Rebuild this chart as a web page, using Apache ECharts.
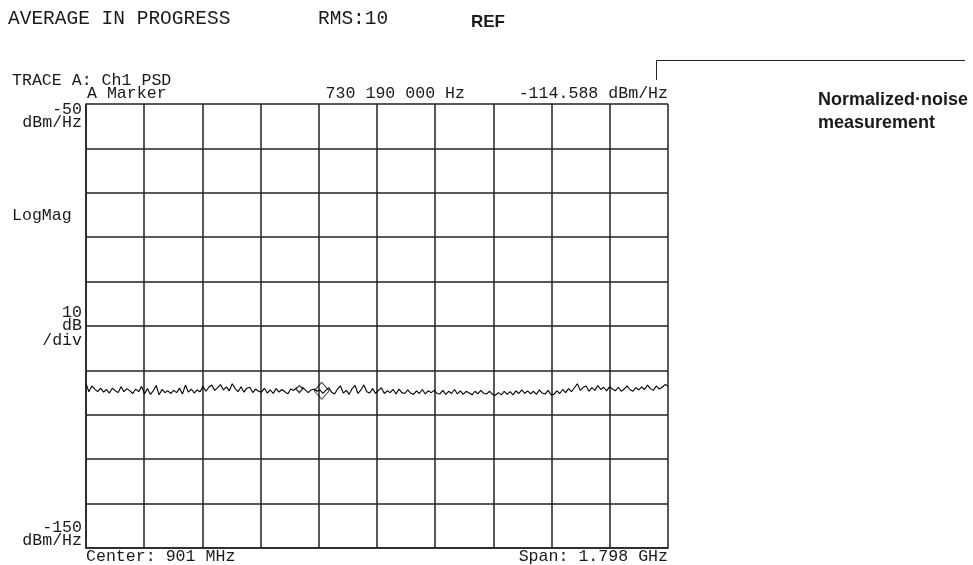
<!DOCTYPE html>
<html>
<head>
<meta charset="utf-8">
<script src="https://cdn.jsdelivr.net/npm/echarts@6/dist/echarts.min.js"></script>
<style>
  html, body { margin: 0; padding: 0; background: #fff; }
  #chart { width: 973px; height: 565px; }
</style>
</head>
<body>
<div id="chart"></div>
<script>
// Sweep settings (MHz)
const centerMHz = 901;
const spanMHz = 1798;

// Vertical scale (dBm/Hz)
const refLevel = -50;
const bottomLevel = -150;
const dbPerDiv = 10;
const yTickLabels = ['-50', '-150'];

// Averaged noise trace, dBm/Hz, evenly spaced across the span
const traceLevels = [
  -113.0, -114.8, -113.5, -114.2, -114.8, -114.0, -114.9, -114.3, -115.1, -114.0,
  -114.6, -115.0, -113.7, -114.8, -114.1, -114.6, -115.2, -114.2, -114.8, -113.6,
  -115.3, -114.1, -115.4, -114.6, -113.4, -115.5, -114.3, -115.0, -114.6, -115.2,
  -114.5, -115.0, -114.0, -115.3, -113.3, -114.9, -114.2, -115.1, -114.4, -114.8,
  -113.6, -114.7, -113.8, -113.3, -114.5, -113.9, -113.2, -114.4, -113.7, -114.6,
  -113.0, -114.1, -114.8, -113.7, -114.9, -114.0, -113.8, -115.0, -114.2, -114.7,
  -114.9, -114.0, -115.1, -114.4, -115.2, -114.1, -114.9, -114.3, -114.8, -115.3,
  -114.2, -114.5, -113.9, -114.9, -113.8, -114.4, -115.0, -114.4, -114.2, -114.7,
  -114.4, -115.2, -114.5, -113.9, -114.9, -115.3, -114.2, -113.5, -115.1, -114.5,
  -115.4, -114.1, -113.4, -115.2, -114.4, -113.3, -114.8, -115.1, -114.1, -115.2,
  -114.5, -113.9, -115.2, -114.6, -115.0, -114.3, -115.3, -114.2, -115.0, -115.2,
  -114.4, -115.1, -115.4, -114.6, -115.2, -114.3, -115.3, -114.6, -115.0, -114.5,
  -115.2, -115.3, -114.5, -115.4, -114.7, -115.2, -114.3, -115.3, -114.6, -115.4,
  -114.7, -115.1, -115.5, -114.7, -115.3, -114.5, -115.2, -115.3, -114.7, -115.4,
  -115.6, -115.0, -115.5, -114.7, -115.4, -114.8, -115.5, -114.6, -115.2, -114.4,
  -115.2, -114.6, -115.3, -114.7, -115.4, -114.4, -115.1, -115.3, -114.5, -115.5,
  -115.4, -114.6, -115.2, -114.3, -115.0, -114.1, -114.8, -113.9, -113.0, -114.5,
  -113.8, -113.5, -114.7, -113.9, -114.5, -113.4, -114.3, -113.8, -114.6, -113.7,
  -114.2, -114.6, -113.8, -114.7, -114.2, -113.5, -114.3, -114.7, -113.9, -114.4,
  -113.7, -114.3, -113.3, -114.1, -114.5, -113.5, -114.2, -113.8, -113.2, -113.5
];

// Active marker and reference marker
const markerFreqMHz = 730.19;
const markerLevel = -114.588;
const refMarkerFreqMHz = 661;
const refMarkerLevel = -114.2;

// Header strings
const statusText = 'AVERAGE IN PROGRESS';
const rmsText = 'RMS:10';
const refTag = 'REF';
const traceTitle = 'TRACE A: Ch1 PSD';
const markerName = 'A Marker';
const calloutLines = ['Normalized\u00b7noise', 'measurement'];

// x positions are expressed as offset from the center frequency
const traceData = traceLevels.map((v, i) =>
  [(i * spanMHz) / (traceLevels.length - 1) - spanMHz / 2, v]);

function formatHz(mhz) {
  const hz = Math.round(mhz * 1e6).toString();
  return hz.replace(/\B(?=(\d{3})+(?!\d))/g, ' ') + ' Hz';
}
function formatSpan(mhz) {
  return (mhz / 1000).toFixed(3) + ' GHz';
}

const MONO = '"Liberation Mono", "DejaVu Sans Mono", monospace';
const NARROW = '"Liberation Sans Narrow", "Liberation Sans", sans-serif';
const INK = '#1a1a1a';

function txt(x, y, text, opt) {
  opt = opt || {};
  return {
    type: 'text', x: x, y: y, silent: true,
    style: {
      text: text,
      fill: opt.fill || INK,
      font: (opt.weight || 'normal') + ' ' + (opt.size || 16.6) + 'px ' + (opt.family || MONO),
      align: opt.align || 'left',
      verticalAlign: 'middle'
    }
  };
}

const chart = echarts.init(document.getElementById('chart'), null, { renderer: 'canvas' });

const gridLine = { show: true, lineStyle: { color: '#222', width: 1.5 } };

chart.setOption({
  animation: false,
  backgroundColor: '#fff',
  grid: { left: 86, right: 305, top: 104, bottom: 17 },
  xAxis: {
    type: 'value',
    min: -spanMHz / 2,
    max: spanMHz / 2,
    interval: spanMHz / 10,
    axisLine: { show: true, onZero: false, lineStyle: { color: '#222', width: 1.5 } },
    axisTick: { show: false },
    axisLabel: { show: false },
    splitLine: gridLine
  },
  yAxis: {
    type: 'value',
    min: bottomLevel,
    max: refLevel,
    interval: dbPerDiv,
    axisLine: { show: true, onZero: false, lineStyle: { color: '#222', width: 1.5 } },
    axisTick: { show: false },
    axisLabel: { show: false },
    splitLine: gridLine
  },
  series: [
    {
      type: 'line',
      data: traceData,
      showSymbol: false,
      lineStyle: { color: '#000', width: 1.1 },
      z: 3
    },
    {
      type: 'scatter',
      data: [[refMarkerFreqMHz - centerMHz, refMarkerLevel]],
      symbol: 'diamond',
      symbolSize: 7,
      itemStyle: { color: '#fff', borderColor: '#111', borderWidth: 1.2 },
      z: 4
    },
    {
      type: 'scatter',
      data: [[markerFreqMHz - centerMHz, markerLevel]],
      symbol: 'diamond',
      symbolSize: [15, 17],
      itemStyle: { color: 'rgba(255,255,255,0)', borderColor: '#111', borderWidth: 1 },
      z: 4
    }
  ],
  graphic: [
    // top status line
    txt(8, 19, statusText, { size: 19.5 }),
    txt(318, 19, rmsText, { size: 19.5 }),
    txt(471, 22, refTag, { size: 17, weight: 'bold', family: NARROW }),
    // trace title and marker readout
    txt(12, 81, traceTitle),
    txt(87, 94, markerName),
    txt(465, 94, formatHz(markerFreqMHz), { align: 'right' }),
    txt(668, 94, markerLevel.toFixed(3) + ' dBm/Hz', { align: 'right' }),
    // left scale annotations
    txt(82, 110, yTickLabels[0], { align: 'right' }),
    txt(82, 123, 'dBm/Hz', { align: 'right' }),
    txt(12, 216, 'LogMag'),
    txt(82, 313, String(dbPerDiv), { align: 'right' }),
    txt(82, 326, 'dB', { align: 'right' }),
    txt(82, 341, '/div', { align: 'right' }),
    txt(82, 528, yTickLabels[1], { align: 'right' }),
    txt(82, 541, 'dBm/Hz', { align: 'right' }),
    // bottom line
    txt(86, 557, 'Center: ' + centerMHz + ' MHz'),
    txt(668, 557, 'Span: ' + formatSpan(spanMHz), { align: 'right' }),
    // callout
    {
      type: 'polyline', silent: true,
      shape: { points: [[656.5, 80], [656.5, 60.5], [965, 60.5]] },
      style: { stroke: '#222', lineWidth: 1, fill: null }
    },
    txt(818, 100, calloutLines[0], { size: 18, weight: 'bold', family: NARROW }),
    txt(818, 123, calloutLines[1], { size: 18, weight: 'bold', family: NARROW })
  ]
});
</script>
</body>
</html>
